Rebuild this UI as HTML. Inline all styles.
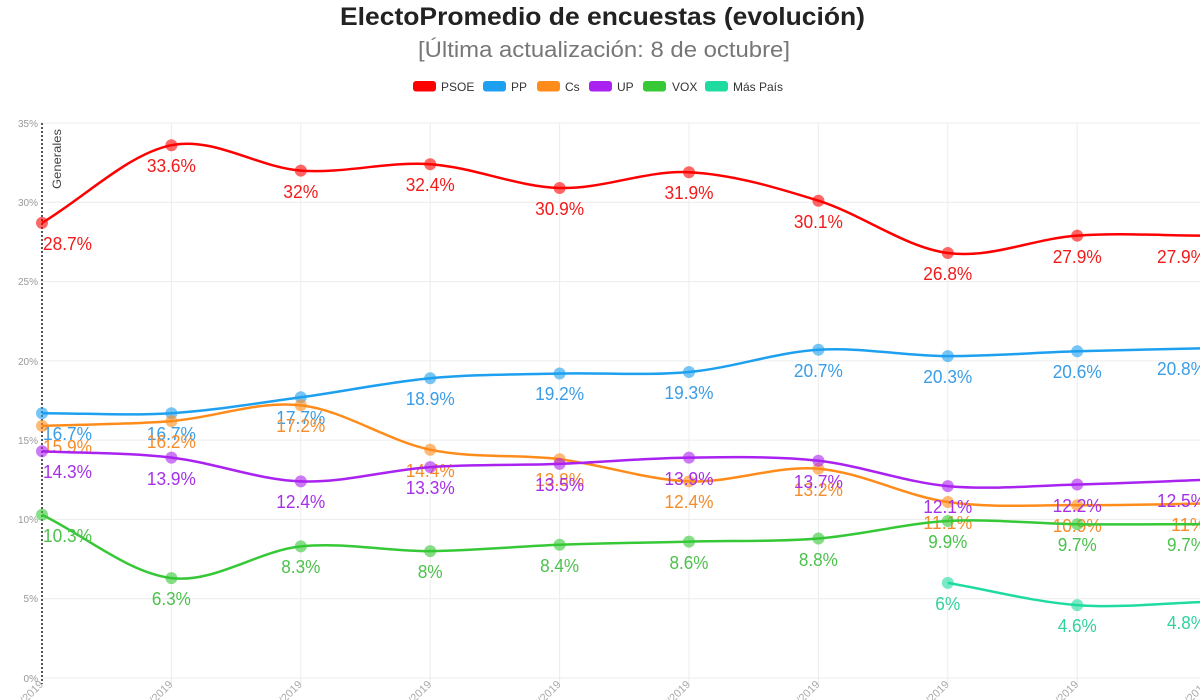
<!DOCTYPE html>
<html>
<head>
<meta charset="utf-8">
<style>
  html,body{margin:0;padding:0;background:#fff;}
  svg{display:block;}
  text{font-family:"Liberation Sans", sans-serif;}
</style>
</head>
<body>
<svg width="1200" height="700" viewBox="0 0 1200 700" xmlns="http://www.w3.org/2000/svg">
  <rect width="1200" height="700" fill="#fff"/>

  <!-- Title -->
  <text x="340" y="25" font-size="25" font-weight="bold" fill="#222" textLength="525" lengthAdjust="spacingAndGlyphs">ElectoPromedio de encuestas (evolución)</text>
  <text x="418" y="57" font-size="22" fill="#777" textLength="372" lengthAdjust="spacingAndGlyphs">[Última actualización: 8 de octubre]</text>

  <!-- Legend -->
  <g font-size="12" fill="#333">
    <rect x="413" y="81" width="23" height="10.5" rx="3" fill="#ff0000"/><text x="441" y="91">PSOE</text>
    <rect x="483" y="81" width="23" height="10.5" rx="3" fill="#1ea0f0"/><text x="511" y="91">PP</text>
    <rect x="537" y="81" width="23" height="10.5" rx="3" fill="#ff8c1a"/><text x="565" y="91">Cs</text>
    <rect x="589" y="81" width="23" height="10.5" rx="3" fill="#aa22f0"/><text x="617" y="91">UP</text>
    <rect x="643" y="81" width="23" height="10.5" rx="3" fill="#36c836"/><text x="672" y="91">VOX</text>
    <rect x="705" y="81" width="23" height="10.5" rx="3" fill="#1fdba0"/><text x="733" y="91">Más País</text>
  </g>

  <!-- Grid -->
  <g stroke="#ececec" stroke-width="1">
    <line x1="42" y1="123" x2="1200" y2="123"/>
    <line x1="42" y1="202.3" x2="1200" y2="202.3"/>
    <line x1="42" y1="281.6" x2="1200" y2="281.6"/>
    <line x1="42" y1="360.9" x2="1200" y2="360.9"/>
    <line x1="42" y1="440.1" x2="1200" y2="440.1"/>
    <line x1="42" y1="519.4" x2="1200" y2="519.4"/>
    <line x1="42" y1="598.7" x2="1200" y2="598.7"/>
    <line x1="42" y1="678" x2="1200" y2="678"/>
    <line x1="171.4" y1="123" x2="171.4" y2="684"/>
    <line x1="300.8" y1="123" x2="300.8" y2="684"/>
    <line x1="430.2" y1="123" x2="430.2" y2="684"/>
    <line x1="559.6" y1="123" x2="559.6" y2="684"/>
    <line x1="689" y1="123" x2="689" y2="684"/>
    <line x1="818.4" y1="123" x2="818.4" y2="684"/>
    <line x1="947.8" y1="123" x2="947.8" y2="684"/>
    <line x1="1077.2" y1="123" x2="1077.2" y2="684"/>
  </g>

  <!-- Y axis labels -->
  <g font-size="10" fill="#999" text-anchor="end">
    <text x="38" y="127">35%</text>
    <text x="38" y="206">30%</text>
    <text x="38" y="285">25%</text>
    <text x="38" y="365">20%</text>
    <text x="38" y="444">15%</text>
    <text x="38" y="523">10%</text>
    <text x="38" y="602">5%</text>
    <text x="38" y="682">0%</text>
  </g>

  <!-- X axis labels (rotated) -->
  <g font-size="11" fill="#aaa" text-anchor="end">
    <text transform="translate(44,685) rotate(-45)">28/04/2019</text>
    <text transform="translate(173.4,685) rotate(-45)">15/05/2019</text>
    <text transform="translate(302.8,685) rotate(-45)">01/06/2019</text>
    <text transform="translate(432.2,685) rotate(-45)">15/06/2019</text>
    <text transform="translate(561.6,685) rotate(-45)">01/07/2019</text>
    <text transform="translate(691,685) rotate(-45)">15/07/2019</text>
    <text transform="translate(820.4,685) rotate(-45)">01/08/2019</text>
    <text transform="translate(949.8,685) rotate(-45)">15/09/2019</text>
    <text transform="translate(1079.2,685) rotate(-45)">01/10/2019</text>
    <text transform="translate(1208.6,685) rotate(-45)">08/10/2019</text>
  </g>

  <!-- Generales annotation -->
  <line x1="42" y1="123" x2="42" y2="684" stroke="#555" stroke-width="2" stroke-dasharray="2,2"/>
  <text transform="translate(61,189) rotate(-90)" font-size="12" fill="#444" textLength="60" lengthAdjust="spacingAndGlyphs">Generales</text>

  <!-- PSOE -->
  <g>
    <path d="M42,222.9 C85.1,197.0 128.3,153.9 171.4,145.2 S257.7,167.4 300.8,170.6 S387.1,161.3 430.2,164.2 S516.5,186.7 559.6,188.0 S645.9,170.1 689,172.2 S775.3,187.2 818.4,200.7 S904.7,247.2 947.8,253.0 S1034.1,238.5 1077.2,235.6 S1163.5,235.6 1206.6,235.6" fill="none" stroke="#ff0000" stroke-width="2.5"/>
    <g fill="#ff0000" fill-opacity="0.6">
      <circle cx="42" cy="222.9" r="6"/><circle cx="171.4" cy="145.2" r="6"/><circle cx="300.8" cy="170.6" r="6"/><circle cx="430.2" cy="164.2" r="6"/><circle cx="559.6" cy="188.0" r="6"/><circle cx="689" cy="172.2" r="6"/><circle cx="818.4" cy="200.7" r="6"/><circle cx="947.8" cy="253.0" r="6"/><circle cx="1077.2" cy="235.6" r="6"/><circle cx="1206.6" cy="235.6" r="6"/>
    </g>
    <g font-size="18" fill="#f21a1a" text-anchor="middle">
      <text x="43" y="250" text-anchor="start" textLength="49" lengthAdjust="spacingAndGlyphs">28.7%</text>
      <text x="171.4" y="172" textLength="49" lengthAdjust="spacingAndGlyphs">33.6%</text>
      <text x="300.8" y="198" textLength="35" lengthAdjust="spacingAndGlyphs">32%</text>
      <text x="430.2" y="191" textLength="49" lengthAdjust="spacingAndGlyphs">32.4%</text>
      <text x="559.6" y="215" textLength="49" lengthAdjust="spacingAndGlyphs">30.9%</text>
      <text x="689" y="199" textLength="49" lengthAdjust="spacingAndGlyphs">31.9%</text>
      <text x="818.4" y="228" textLength="49" lengthAdjust="spacingAndGlyphs">30.1%</text>
      <text x="947.8" y="280" textLength="49" lengthAdjust="spacingAndGlyphs">26.8%</text>
      <text x="1077.2" y="263" textLength="49" lengthAdjust="spacingAndGlyphs">27.9%</text>
      <text x="1206" y="263" text-anchor="end" textLength="49" lengthAdjust="spacingAndGlyphs">27.9%</text>
    </g>
  </g>

  <!-- PP -->
  <g>
    <path d="M42,413.2 C85.1,413.2 128.3,415.9 171.4,413.2 S257.7,403.1 300.8,397.3 S387.1,382.3 430.2,378.3 S516.5,374.6 559.6,373.5 S645.9,376.0 689,372.0 S775.3,352.5 818.4,349.8 S904.7,355.9 947.8,356.1 S1034.1,352.6 1077.2,351.3 S1163.5,349.2 1206.6,348.2" fill="none" stroke="#1ea0f0" stroke-width="2.5"/>
    <g fill="#1ea0f0" fill-opacity="0.6">
      <circle cx="42" cy="413.2" r="6"/><circle cx="171.4" cy="413.2" r="6"/><circle cx="300.8" cy="397.3" r="6"/><circle cx="430.2" cy="378.3" r="6"/><circle cx="559.6" cy="373.5" r="6"/><circle cx="689" cy="372.0" r="6"/><circle cx="818.4" cy="349.8" r="6"/><circle cx="947.8" cy="356.1" r="6"/><circle cx="1077.2" cy="351.3" r="6"/><circle cx="1206.6" cy="348.2" r="6"/>
    </g>
    <g font-size="18" fill="#3a9de6" text-anchor="middle">
      <text x="43" y="440" text-anchor="start" textLength="49" lengthAdjust="spacingAndGlyphs">16.7%</text>
      <text x="171.4" y="440" textLength="49" lengthAdjust="spacingAndGlyphs">16.7%</text>
      <text x="300.8" y="424" textLength="49" lengthAdjust="spacingAndGlyphs">17.7%</text>
      <text x="430.2" y="405" textLength="49" lengthAdjust="spacingAndGlyphs">18.9%</text>
      <text x="559.6" y="400" textLength="49" lengthAdjust="spacingAndGlyphs">19.2%</text>
      <text x="689" y="399" textLength="49" lengthAdjust="spacingAndGlyphs">19.3%</text>
      <text x="818.4" y="377" textLength="49" lengthAdjust="spacingAndGlyphs">20.7%</text>
      <text x="947.8" y="383" textLength="49" lengthAdjust="spacingAndGlyphs">20.3%</text>
      <text x="1077.2" y="378" textLength="49" lengthAdjust="spacingAndGlyphs">20.6%</text>
      <text x="1206" y="375" text-anchor="end" textLength="49" lengthAdjust="spacingAndGlyphs">20.8%</text>
    </g>
  </g>

  <!-- Cs -->
  <g>
    <path d="M42,425.9 C85.1,424.3 128.3,424.5 171.4,421.1 S257.7,400.5 300.8,405.3 S387.1,440.7 430.2,449.7 S516.5,453.9 559.6,459.2 S645.9,479.8 689,481.4 S775.3,465.3 818.4,468.7 S904.7,495.9 947.8,502.0 S1034.1,504.9 1077.2,505.2 S1163.5,504.1 1206.6,503.6" fill="none" stroke="#ff8c1a" stroke-width="2.5"/>
    <g fill="#ff8c1a" fill-opacity="0.6">
      <circle cx="42" cy="425.9" r="6"/><circle cx="171.4" cy="421.1" r="6"/><circle cx="300.8" cy="405.3" r="6"/><circle cx="430.2" cy="449.7" r="6"/><circle cx="559.6" cy="459.2" r="6"/><circle cx="689" cy="481.4" r="6"/><circle cx="818.4" cy="468.7" r="6"/><circle cx="947.8" cy="502.0" r="6"/><circle cx="1077.2" cy="505.2" r="6"/><circle cx="1206.6" cy="503.6" r="6"/>
    </g>
    <g font-size="18" fill="#f58c2a" text-anchor="middle">
      <text x="43" y="453" text-anchor="start" textLength="49" lengthAdjust="spacingAndGlyphs">15.9%</text>
      <text x="171.4" y="448" textLength="49" lengthAdjust="spacingAndGlyphs">16.2%</text>
      <text x="300.8" y="432" textLength="49" lengthAdjust="spacingAndGlyphs">17.2%</text>
      <text x="430.2" y="477" textLength="49" lengthAdjust="spacingAndGlyphs">14.4%</text>
      <text x="559.6" y="486" textLength="49" lengthAdjust="spacingAndGlyphs">13.8%</text>
      <text x="689" y="508" textLength="49" lengthAdjust="spacingAndGlyphs">12.4%</text>
      <text x="818.4" y="496" textLength="49" lengthAdjust="spacingAndGlyphs">13.2%</text>
      <text x="947.8" y="529" textLength="49" lengthAdjust="spacingAndGlyphs">11.1%</text>
      <text x="1077.2" y="532" textLength="49" lengthAdjust="spacingAndGlyphs">10.9%</text>
      <text x="1206" y="531" text-anchor="end" textLength="35" lengthAdjust="spacingAndGlyphs">11%</text>
    </g>
  </g>

  <!-- UP -->
  <g>
    <path d="M42,451.2 C85.1,453.3 128.3,452.6 171.4,457.6 S257.7,479.8 300.8,481.4 S387.1,470.0 430.2,467.1 S516.5,465.5 559.6,463.9 S645.9,458.1 689,457.6 S775.3,456.1 818.4,460.8 S904.7,482.2 947.8,486.1 S1034.1,485.6 1077.2,484.5 S1163.5,481.4 1206.6,479.8" fill="none" stroke="#aa22f0" stroke-width="2.5"/>
    <g fill="#aa22f0" fill-opacity="0.6">
      <circle cx="42" cy="451.2" r="6"/><circle cx="171.4" cy="457.6" r="6"/><circle cx="300.8" cy="481.4" r="6"/><circle cx="430.2" cy="467.1" r="6"/><circle cx="559.6" cy="463.9" r="6"/><circle cx="689" cy="457.6" r="6"/><circle cx="818.4" cy="460.8" r="6"/><circle cx="947.8" cy="486.1" r="6"/><circle cx="1077.2" cy="484.5" r="6"/><circle cx="1206.6" cy="479.8" r="6"/>
    </g>
    <g font-size="18" fill="#a530e8" text-anchor="middle">
      <text x="43" y="478" text-anchor="start" textLength="49" lengthAdjust="spacingAndGlyphs">14.3%</text>
      <text x="171.4" y="485" textLength="49" lengthAdjust="spacingAndGlyphs">13.9%</text>
      <text x="300.8" y="508" textLength="49" lengthAdjust="spacingAndGlyphs">12.4%</text>
      <text x="430.2" y="494" textLength="49" lengthAdjust="spacingAndGlyphs">13.3%</text>
      <text x="559.6" y="491" textLength="49" lengthAdjust="spacingAndGlyphs">13.5%</text>
      <text x="689" y="485" textLength="49" lengthAdjust="spacingAndGlyphs">13.9%</text>
      <text x="818.4" y="488" textLength="49" lengthAdjust="spacingAndGlyphs">13.7%</text>
      <text x="947.8" y="513" textLength="49" lengthAdjust="spacingAndGlyphs">12.1%</text>
      <text x="1077.2" y="512" textLength="49" lengthAdjust="spacingAndGlyphs">12.2%</text>
      <text x="1206" y="507" text-anchor="end" textLength="49" lengthAdjust="spacingAndGlyphs">12.5%</text>
    </g>
  </g>

  <!-- VOX -->
  <g>
    <path d="M42,514.7 C85.1,535.8 128.3,572.8 171.4,578.1 S257.7,550.9 300.8,546.4 S387.1,551.4 430.2,551.1 S516.5,546.4 559.6,544.8 S645.9,542.7 689,541.6 S775.3,541.9 818.4,538.5 S904.7,523.4 947.8,521.0 S1034.1,523.7 1077.2,524.2 S1163.5,524.2 1206.6,524.2" fill="none" stroke="#36c836" stroke-width="2.5"/>
    <g fill="#36c836" fill-opacity="0.6">
      <circle cx="42" cy="514.7" r="6"/><circle cx="171.4" cy="578.1" r="6"/><circle cx="300.8" cy="546.4" r="6"/><circle cx="430.2" cy="551.1" r="6"/><circle cx="559.6" cy="544.8" r="6"/><circle cx="689" cy="541.6" r="6"/><circle cx="818.4" cy="538.5" r="6"/><circle cx="947.8" cy="521.0" r="6"/><circle cx="1077.2" cy="524.2" r="6"/><circle cx="1206.6" cy="524.2" r="6"/>
    </g>
    <g font-size="18" fill="#4cc14c" text-anchor="middle">
      <text x="43" y="542" text-anchor="start" textLength="49" lengthAdjust="spacingAndGlyphs">10.3%</text>
      <text x="171.4" y="605" textLength="39" lengthAdjust="spacingAndGlyphs">6.3%</text>
      <text x="300.8" y="573" textLength="39" lengthAdjust="spacingAndGlyphs">8.3%</text>
      <text x="430.2" y="578" textLength="25" lengthAdjust="spacingAndGlyphs">8%</text>
      <text x="559.6" y="572" textLength="39" lengthAdjust="spacingAndGlyphs">8.4%</text>
      <text x="689" y="569" textLength="39" lengthAdjust="spacingAndGlyphs">8.6%</text>
      <text x="818.4" y="566" textLength="39" lengthAdjust="spacingAndGlyphs">8.8%</text>
      <text x="947.8" y="548" textLength="39" lengthAdjust="spacingAndGlyphs">9.9%</text>
      <text x="1077.2" y="551" textLength="39" lengthAdjust="spacingAndGlyphs">9.7%</text>
      <text x="1206" y="551" text-anchor="end" textLength="39" lengthAdjust="spacingAndGlyphs">9.7%</text>
    </g>
  </g>

  <!-- Más País -->
  <g>
    <path d="M947.8,582.9 C990.9,590.3 1034.1,601.9 1077.2,605.1 S1163.5,603.0 1206.6,601.9" fill="none" stroke="#1fdba0" stroke-width="2.5"/>
    <g fill="#1fdba0" fill-opacity="0.6">
      <circle cx="947.8" cy="582.9" r="6"/><circle cx="1077.2" cy="605.1" r="6"/><circle cx="1206.6" cy="601.9" r="6"/>
    </g>
    <g font-size="18" fill="#2fd39e" text-anchor="middle">
      <text x="947.8" y="610" textLength="25" lengthAdjust="spacingAndGlyphs">6%</text>
      <text x="1077.2" y="632" textLength="39" lengthAdjust="spacingAndGlyphs">4.6%</text>
      <text x="1206" y="629" text-anchor="end" textLength="39" lengthAdjust="spacingAndGlyphs">4.8%</text>
    </g>
  </g>
</svg>
</body>
</html>
